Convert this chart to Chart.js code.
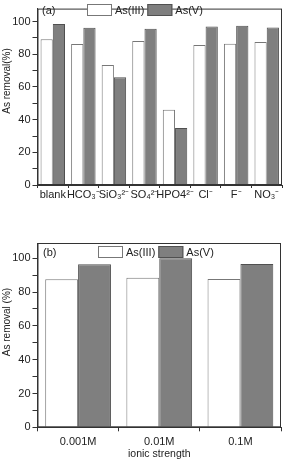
<!DOCTYPE html>
<html>
<head>
<meta charset="utf-8">
<script src="https://cdn.jsdelivr.net/npm/chart.js@4"></script>
<style>
  body { margin: 0; background: #fff; }
  canvas { display: block; }
</style>
</head>
<body>
<canvas id="chartA" width="285" height="230"></canvas>
<canvas id="chartB" width="285" height="230"></canvas>
<script>
// (a) anions
const anions = ['blank', 'HCO₃⁻', 'SiO₃²⁻', 'SO₄²⁻', 'HPO4²⁻', 'Cl⁻', 'F⁻', 'NO₃⁻'];
const asIIIAnion = [89.2, 86.3, 73.5, 88.2, 46.1, 85.7, 86.5, 87.6];
const asVAnion = [98.6, 96.3, 65.9, 95.7, 34.9, 97.1, 97.5, 96.5];

// (b) ionic strength
const strengths = ['0.001M', '0.01M', '0.1M'];
const asIIIIonic = [87.5, 88.5, 87.7];
const asVIonic = [96.4, 100, 96.6];

const yLabelTicks = [0, 20, 40, 60, 80, 100];
const seriesNames = ['As(III)', 'As(V)'];

const FONT = "'Liberation Sans', Arial, sans-serif";
Chart.defaults.font.family = FONT;
Chart.defaults.color = '#222';

// box around the plot, legend, panel letter and y title
const framePlugin = {
    id: 'frame',
    afterDraw(chart, args, opts) {
        const ctx = chart.ctx;
        const a = chart.chartArea;
        ctx.save();
        ctx.strokeStyle = '#333';
        ctx.lineWidth = 1;
        ctx.strokeRect(a.left + 0.5, a.top + 0.5, a.right - a.left - 1, a.bottom - a.top - 1);

        ctx.font = '11px ' + FONT;
        ctx.fillStyle = '#222';
        ctx.textBaseline = 'middle';
        ctx.fillText(opts.panel, opts.panelX, opts.panelY);

        let x = opts.legendX;
        const y = opts.legendY;
        chart.data.datasets.forEach(ds => {
            ctx.fillStyle = ds.backgroundColor;
            ctx.fillRect(x, y, 25, 12);
            ctx.strokeStyle = ds.borderColor;
            ctx.strokeRect(x + 0.5, y + 0.5, 24, 11);
            ctx.fillStyle = '#222';
            ctx.fillText(ds.label, x + 28, y + 6.5);
            x += 28 + ctx.measureText(ds.label).width + 3;
        });

        // y axis title, sits a bit above the plot middle like the original
        ctx.font = '10px ' + FONT;
        ctx.textAlign = 'center';
        ctx.translate(7, opts.yTitleY);
        ctx.rotate(-Math.PI / 2);
        ctx.fillText(opts.yTitle, 0, 0);
        ctx.restore();
    }
};

function makeChart(id, labels, d1, d2, cfg) {
    const ctx = document.getElementById(id).getContext('2d');
    return new Chart(ctx, {
        type: 'bar',
        data: {
            labels: labels,
            datasets: [{
                label: seriesNames[0],
                data: d1,
                backgroundColor: '#ffffff',
                borderColor: '#777777',
                borderWidth: 1
            }, {
                label: seriesNames[1],
                data: d2,
                backgroundColor: '#7f7f7f',
                borderColor: '#505050',
                borderWidth: 1
            }]
        },
        options: {
            responsive: false,
            animation: false,
            layout: { padding: cfg.padding },
            categoryPercentage: cfg.catPct,
            barPercentage: 1,
            plugins: {
                legend: { display: false },
                tooltip: { enabled: false },
                frame: cfg.frame
            },
            scales: {
                x: {
                    grid: { drawOnChartArea: false, tickLength: cfg.xTickLen, color: '#333' },
                    border: { color: '#333' },
                    ticks: { font: { size: 11 }, padding: cfg.xPad, maxRotation: 0, autoSkip: false },
                    title: {
                        display: !!cfg.xTitle,
                        text: cfg.xTitle || '',
                        font: { size: 10.5 },
                        padding: { top: 1, bottom: 0 }
                    },
                    afterFit(scale) { scale.height = cfg.xHeight; }
                },
                y: {
                    min: 0,
                    max: cfg.yMax,
                    grid: { drawOnChartArea: false, tickLength: 5, color: '#333' },
                    border: { color: '#333' },
                    ticks: {
                        stepSize: 10,
                        includeBounds: false,
                        autoSkip: false,
                        padding: 2,
                        font: { size: 11 },
                        callback: v => yLabelTicks.includes(v) ? v : ''
                    },
                    afterFit(scale) { scale.width = 37.5; }
                }
            }
        },
        plugins: [framePlugin]
    });
}

makeChart('chartA', anions, asIIIAnion, asVAnion, {
    padding: { top: 1, right: 3, left: 0, bottom: 0 },
    catPct: 0.8,
    yMax: 108,
    xHeight: 45,
    xTickLen: 3,
    xPad: 0,
    frame: { panel: '(a)', panelX: 42, panelY: 11, legendX: 87, legendY: 4,
             yTitle: 'As removal(%)', yTitleY: 81 }
});

makeChart('chartB', strengths, asIIIIonic, asVIonic, {
    padding: { top: 13, right: 4, left: 0, bottom: 0 },
    catPct: 0.81,
    yMax: 109,
    xHeight: 32.7,
    xTickLen: 4,
    xPad: 4,
    xTitle: 'ionic strength',
    frame: { panel: '(b)', panelX: 43, panelY: 23, legendX: 98, legendY: 16,
             yTitle: 'As removal (%)', yTitleY: 92 }
});
</script>
</body>
</html>
